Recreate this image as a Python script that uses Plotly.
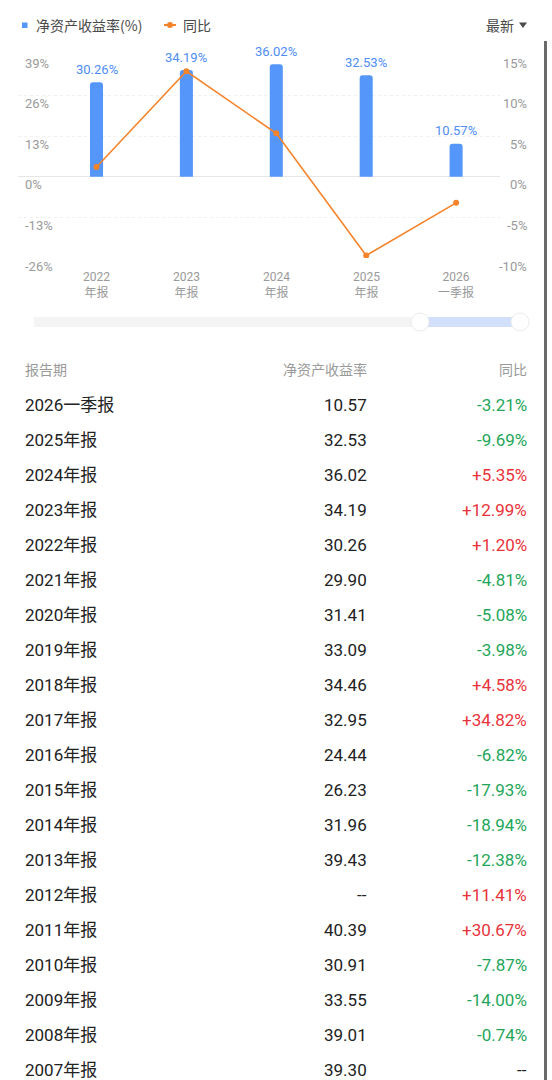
import plotly.graph_objects as go

# ---------------- data ----------------
periods = ["2026一季报", "2025年报", "2024年报", "2023年报", "2022年报", "2021年报",
           "2020年报", "2019年报", "2018年报", "2017年报", "2016年报", "2015年报",
           "2014年报", "2013年报", "2012年报", "2011年报", "2010年报", "2009年报",
           "2008年报", "2007年报"]
roe = [10.57, 32.53, 36.02, 34.19, 30.26, 29.90, 31.41, 33.09, 34.46, 32.95,
       24.44, 26.23, 31.96, 39.43, None, 40.39, 30.91, 33.55, 39.01, 39.30]
yoy = [-3.21, -9.69, 5.35, 12.99, 1.20, -4.81, -5.08, -3.98, 4.58, 34.82,
       -6.82, -17.93, -18.94, -12.38, 11.41, 30.67, -7.87, -14.00, -0.74, None]

chart_top = ["2022", "2023", "2024", "2025", "2026"]
chart_bottom = ["年报", "年报", "年报", "年报", "一季报"]
chart_roe = roe[:5][::-1]
chart_yoy = yoy[:5][::-1]

left_ticks = [39, 26, 13, 0, -13, -26]
right_ticks = [15, 10, 5, 0, -5, -10]

# ---------------- layout helpers ----------------
W, H = 552, 1080
FONT = "Roboto, 'Noto Sans CJK SC', sans-serif"
CJK = "'Noto Sans CJK SC', Roboto, sans-serif"


def px(x):
    return x / W


def py(y):
    return 1 - y / H


BLUE = "#5596FA"
BLUE_TXT = "#4E8DF5"
ORANGE = "#F5832A"
GREEN = "#1FA65A"
RED = "#E8333B"
GRAY = "#9A9A9A"

xs = list(range(len(chart_top)))

fig = go.Figure()
fig.add_trace(go.Bar(
    x=xs, y=chart_roe, yaxis="y", width=0.145,
    marker=dict(color=BLUE, line=dict(width=0)),
    hoverinfo="skip", showlegend=False,
))
fig.add_trace(go.Scatter(
    x=xs, y=chart_yoy, yaxis="y2", mode="lines+markers",
    line=dict(color=ORANGE, width=1.6),
    marker=dict(color=ORANGE, size=6),
    hoverinfo="skip", showlegend=False,
))

ann = []
shapes = []

# y-axis labels (below grid lines)
for v in left_ticks:
    ann.append(dict(xref="paper", yref="y", x=px(23), y=v, xanchor="left",
                    yanchor="middle", yshift=-8, showarrow=False, text=f"{v}%",
                    font=dict(family=FONT, size=13, color=GRAY)))
for v in right_ticks:
    ann.append(dict(xref="paper", yref="y2", x=px(529), y=v, xanchor="right",
                    yanchor="middle", yshift=-8, showarrow=False, text=f"{v}%",
                    font=dict(family=FONT, size=13, color=GRAY)))

# bar value labels
for x, v in zip(xs, chart_roe):
    ann.append(dict(xref="x", yref="y", x=x, y=v, yanchor="middle", yshift=13,
                    showarrow=False, text=f"{v:.2f}%",
                    font=dict(family=FONT, size=13, color=BLUE_TXT)))

# x labels (two lines)
for x, t, b in zip(xs, chart_top, chart_bottom):
    ann.append(dict(xref="x", yref="paper", x=x, y=py(285), yanchor="middle",
                    showarrow=False, text=f"{t}<br>{b}",
                    font=dict(family=FONT, size=12, color=GRAY)))

# legend
shapes.append(dict(type="rect", xref="paper", yref="paper",
                   x0=px(22), x1=px(27.5), y0=py(28), y1=py(22.5),
                   fillcolor=BLUE, line=dict(width=0)))
ann.append(dict(xref="paper", yref="paper", x=px(34), y=py(25), xanchor="left",
                yanchor="middle", showarrow=False, text="净资产收益率(%)",
                font=dict(family=CJK, size=14, color="#4a4a4a")))
shapes.append(dict(type="line", xref="paper", yref="paper",
                   x0=px(164), x1=px(176), y0=py(25), y1=py(25),
                   line=dict(color=ORANGE, width=2)))
shapes.append(dict(type="circle", xref="paper", yref="paper",
                   x0=px(167), x1=px(173), y0=py(28), y1=py(22),
                   fillcolor=ORANGE, line=dict(width=0)))
ann.append(dict(xref="paper", yref="paper", x=px(181), y=py(25), xanchor="left",
                yanchor="middle", showarrow=False, text="同比",
                font=dict(family=CJK, size=14, color="#4a4a4a")))
ann.append(dict(xref="paper", yref="paper", x=px(516), y=py(25), xanchor="right",
                yanchor="middle", showarrow=False, text="最新",
                font=dict(family=CJK, size=14, color="#4a4a4a")))
shapes.append(dict(type="path", xref="paper", yref="paper",
                   path=f"M {px(519)} {py(22.5)} L {px(527)} {py(22.5)} L {px(523)} {py(28)} Z",
                   fillcolor="#4a4a4a", line=dict(width=0)))

# slider
shapes.append(dict(type="rect", xref="paper", yref="paper",
                   x0=px(34), x1=px(514), y0=py(327), y1=py(317),
                   fillcolor="#F4F4F5", line=dict(width=0)))
shapes.append(dict(type="rect", xref="paper", yref="paper",
                   x0=px(426), x1=px(514), y0=py(327), y1=py(317),
                   fillcolor="#D3E0FB", line=dict(width=0)))
for cx in (420, 520):
    shapes.append(dict(type="circle", xref="paper", yref="paper",
                       x0=px(cx - 9), x1=px(cx + 9), y0=py(331), y1=py(313),
                       fillcolor="#FFFFFF", line=dict(color="#ECECEC", width=1)))

# scrollbar
shapes.append(dict(type="rect", xref="paper", yref="paper",
                   x0=px(544), x1=px(547), y0=0, y1=py(41),
                   fillcolor="#6a6a6a", line=dict(width=0)))

# table header
hdr_y = py(369)
ann.append(dict(xref="paper", yref="paper", x=px(23), y=hdr_y, xanchor="left",
                yanchor="middle", showarrow=False, text="报告期",
                font=dict(family=CJK, size=14, color=GRAY)))
ann.append(dict(xref="paper", yref="paper", x=px(369), y=hdr_y, xanchor="right",
                yanchor="middle", showarrow=False, text="净资产收益率",
                font=dict(family=CJK, size=14, color=GRAY)))
ann.append(dict(xref="paper", yref="paper", x=px(529), y=hdr_y, xanchor="right",
                yanchor="middle", showarrow=False, text="同比",
                font=dict(family=CJK, size=14, color=GRAY)))

# table rows
for i, (p, r, c) in enumerate(zip(periods, roe, yoy)):
    yy = py(405 + 35 * i)
    ann.append(dict(xref="paper", yref="paper", x=px(23), y=yy, xanchor="left",
                    yanchor="middle", showarrow=False, text=p,
                    font=dict(family=FONT, size=17, color="#222222")))
    ann.append(dict(xref="paper", yref="paper", x=px(369), y=yy, xanchor="right",
                    yanchor="middle", showarrow=False,
                    text="--" if r is None else f"{r:.2f}",
                    font=dict(family=FONT, size=17, color="#222222")))
    if c is None:
        ctxt, ccol = "--", "#222222"
    else:
        ctxt = f"{c:+.2f}%"
        ccol = RED if c > 0 else GREEN
    ann.append(dict(xref="paper", yref="paper", x=px(529), y=yy, xanchor="right",
                    yanchor="middle", showarrow=False, text=ctxt,
                    font=dict(family=FONT, size=17, color=ccol)))

x0, step = 96.5, 89.9
fig.update_layout(
    width=W, height=H,
    margin=dict(l=0, r=0, t=0, b=0),
    paper_bgcolor="white", plot_bgcolor="white",
    barcornerradius=3,
    showlegend=False,
    xaxis=dict(domain=[px(18), px(500)],
               range=[(18 - x0) / step, (500 - x0) / step],
               showgrid=False, zeroline=False, showticklabels=False,
               showline=False, fixedrange=True),
    yaxis=dict(domain=[py(258), py(55)], range=[-26, 39],
               tickvals=left_ticks, showticklabels=False,
               showgrid=True, gridcolor="#EFEFEF", griddash="dot", gridwidth=1,
               zeroline=True, zerolinecolor="#E6E6E6", zerolinewidth=1,
               showline=False, fixedrange=True),
    yaxis2=dict(overlaying="y", side="right", range=[-10, 15],
                showgrid=False, zeroline=False, showticklabels=False,
                showline=False, fixedrange=True),
    annotations=ann,
    shapes=shapes,
)

fig.write_html("out.html", config={"displayModeBar": False})
